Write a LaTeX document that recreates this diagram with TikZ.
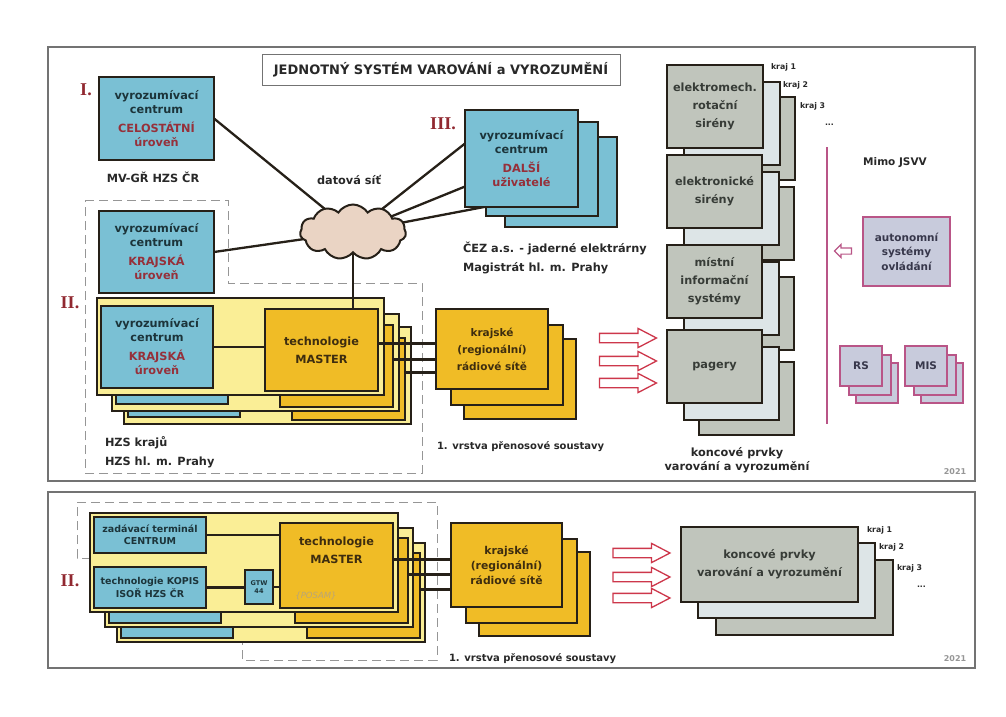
\documentclass[tikz,border=0pt]{standalone}
\usepackage{fontspec}
\setmainfont{DejaVu Sans}
\newfontfamily\romanfont{Liberation Serif}
\usetikzlibrary{shapes.symbols,shapes.arrows}
\pgfdeclarelayer{back}
\pgfdeclarelayer{bg}
\pgfsetlayers{back,bg,main}
\definecolor{bluefill}{RGB}{122,192,212}
\definecolor{bluetext}{RGB}{28,52,58}
\definecolor{redtext}{RGB}{150,48,58}
\definecolor{dk}{RGB}{38,32,24}
\definecolor{ylight}{RGB}{250,238,150}
\definecolor{mastfill}{RGB}{240,188,38}
\definecolor{ytext}{RGB}{62,45,15}
\definecolor{greycard}{RGB}{192,197,188}
\definecolor{lightcard}{RGB}{221,229,231}
\definecolor{cardtext}{RGB}{55,60,55}
\definecolor{lav}{RGB}{200,203,220}
\definecolor{lavtext}{RGB}{55,55,75}
\definecolor{pinkc}{RGB}{185,85,135}
\definecolor{cloudc}{RGB}{234,212,196}
\definecolor{romanc}{RGB}{145,40,48}
\definecolor{arrowred}{RGB}{205,55,75}
\definecolor{panelc}{RGB}{115,115,115}
\definecolor{dashc}{RGB}{150,150,150}
\definecolor{labc}{RGB}{40,40,40}
\definecolor{yearc}{RGB}{150,150,150}
\definecolor{posamc}{RGB}{185,165,120}
\newcommand\fs[2]{\fontsize{#1}{#2}\selectfont}
\newcommand\rt[1]{\textcolor{redtext}{#1}}
\newcommand\rbox[7]{\node[#6,minimum width={(#4)-(#2)},minimum height={(#5)-(#3)}] (#1) at ({((#2)+(#4))/2},{((#3)+(#5))/2}) {#7};}
\newcommand\layerII[4]{%
\begin{scope}[shift={#2}]
\rbox{y#1}{97}{298}{384}{395}{ylayer}{}
\rbox{b#1}{101}{306}{213}{388}{blubox}{#3}
\rbox{m#1}{265}{309}{378}{391}{mastbox}{#4}
\end{scope}}
\newcommand\layerIIb[5]{%
\begin{scope}[shift={#2}]
\rbox{z#1y}{90}{513}{398}{612}{ylayer}{}
\rbox{z#1a}{94}{517}{206}{553}{smallblue}{#3}
\rbox{z#1b}{94}{567}{206}{608}{smallblue}{#4}
\rbox{z#1m}{280}{523}{393}{608}{mastbox}{#5}
\end{scope}}
\newcommand\sirgrp[6]{%
\rbox{#1c}{(#2)+32}{(#3)+32}{(#4)+32}{(#5)+32}{card}{}
\rbox{#1b}{(#2)+17}{(#3)+17}{(#4)+17}{(#5)+17}{lcard}{}
\rbox{#1a}{#2}{#3}{#4}{#5}{card}{#6}}
\newcommand\lavstack[6]{%
\rbox{#1c}{(#2)+16}{(#3)+17}{(#4)+16}{(#5)+17}{lavsmall}{}
\rbox{#1b}{(#2)+9}{(#3)+9}{(#4)+9}{(#5)+9}{lavsmall}{}
\rbox{#1a}{#2}{#3}{#4}{#5}{lavsmall}{#6}}
\begin{document}
\begin{tikzpicture}[x=1pt,y=-1pt,
  every node/.style={inner sep=0pt,outer sep=0pt},
  font=\bfseries\fs{11.3}{14},
  blubox/.style={draw=dk,line width=2.8pt,fill=bluefill,align=center,text=bluetext,font=\bfseries\fs{11.3}{14}},
  smallblue/.style={blubox,font=\bfseries\fs{9.5}{12.5}},
  gtwbox/.style={draw=dk,line width=1.4pt,fill=bluefill,align=center,text=bluetext,font=\bfseries\fs{6.5}{8}},
  mastbox/.style={draw=dk,line width=2.8pt,fill=mastfill,align=center,text=ytext,font=\bfseries\fs{11.3}{18}},
  radbox/.style={mastbox,font=\bfseries\fs{10.5}{17}},
  radboxb/.style={mastbox,font=\bfseries\fs{10.8}{15}},
  ylayer/.style={draw=dk,line width=1.4pt,fill=ylight},
  card/.style={draw=dk,line width=2.8pt,fill=greycard,align=center,text=cardtext,font=\bfseries\fs{11.3}{18}},
  lcard/.style={card,fill=lightcard},
  lavbox/.style={draw=pinkc,line width=2.6pt,fill=lav,align=center,text=lavtext,font=\bfseries\fs{10.5}{14.5}},
  lavsmall/.style={draw=pinkc,line width=1.2pt,fill=lav,text=lavtext,font=\bfseries\fs{10.5}{12}},
  lab/.style={text=labc,font=\bfseries\fs{11.3}{14}},
  roman/.style={text=romanc,font=\romanfont\bfseries\fs{18}{18}},
  kraj/.style={text=labc,anchor=west,font=\bfseries\fs{7.8}{9}},
  yearlab/.style={text=yearc,font=\bfseries\fs{8}{9}},
  titlebox/.style={draw=panelc,line width=1pt,fill=white,text=labc,font=\bfseries\fs{13}{15}},
  panel/.style={draw=panelc,line width=1.2pt},
  dashbox/.style={draw=dashc,dash pattern=on 9pt off 5pt,line width=0.9pt},
  conn/.style={draw=dk,line width=2.3pt},
  redarr/.style={single arrow,draw=arrowred,fill=white,line width=1.3pt,minimum height=57pt,inner sep=4pt,single arrow head extend=5pt,single arrow tip angle=55},
  pinkarr/.style={single arrow,shape border rotate=180,draw=pinkc,fill=white,line width=1.2pt,minimum height=17pt,inner sep=2.5pt,single arrow head extend=3.5pt,single arrow tip angle=90},
  posam/.style={text=posamc,font=\normalfont\itshape\fs{8.5}{9}}]
\useasboundingbox (0,0) rectangle (1006,717);
\begin{pgfonlayer}{back}
\fill[white] (0,0) rectangle (1006,717);
\draw[panel] (48,47) rectangle (975,481);
\draw[panel] (48,492) rectangle (975,668);
\draw[dashbox] (85,200) -- (228,200) -- (228,283) -- (422,283) -- (422,473) -- (85,473) -- cycle;
\draw[dashbox] (77,502) -- (437,502) -- (437,660) -- (242,660) -- (242,558) -- (77,558) -- cycle;
\end{pgfonlayer}

% ---------- top panel ----------
\rbox{title}{262}{55}{620}{85}{titlebox}{JEDNOTNÝ SYSTÉM VAROVÁNÍ a VYROZUMĚNÍ}

\node[roman] (rI) at (86,90) {I.};
\rbox{c1}{99}{77}{214}{160}{blubox}{vyrozumívací\\centrum\\[5pt]\rt{CELOSTÁTNÍ}\\\rt{úroveň}}
\node[lab] (mvgr) at (153,177) {MV-GŘ HZS ČR};

\rbox{k0}{99}{211}{214}{293}{blubox}{vyrozumívací\\centrum\\[5pt]\rt{KRAJSKÁ}\\\rt{úroveň}}

\node[cloud,cloud puffs=11,cloud puff arc=115,aspect=1.85,draw=dk,line width=2pt,fill=cloudc,minimum width=106pt,minimum height=55pt] (net) at (353,232) {};
\node[lab] (dsit) at (349,180) {datová síť};

\node[roman] (rIII) at (443,124) {III.};
\rbox{d3}{505}{137}{617}{227}{blubox}{}
\rbox{d2}{486}{122}{598}{216}{blubox}{}
\rbox{d1}{465}{110}{578}{207}{blubox}{vyrozumívací\\centrum\\[5pt]\rt{DALŠÍ}\\\rt{uživatelé}}
\node[lab,anchor=west] (cez) at (463,248) {ČEZ a.s. - jaderné elektrárny};
\node[lab,anchor=west] (mag) at (463,268) {Magistrát hl. m. Prahy};

\begin{pgfonlayer}{bg}
\draw[conn] (c1.east) -- (net);
\draw[conn] (k0.east) -- (net);
\draw[conn] (net) -- ([yshift=15pt]d1.west);
\draw[conn] (net) -- ([yshift=-9pt]d2.west);
\draw[conn] (net) -- ([yshift=-21pt]d3.west);
\end{pgfonlayer}

\node[roman] (rII) at (70,303) {II.};
\layerII{3}{(27,29)}{}{}
\layerII{2}{(15,16)}{}{}
\layerII{1}{(0,0)}{vyrozumívací\\centrum\\[5pt]\rt{KRAJSKÁ}\\\rt{úroveň}}{technologie\\MASTER}
\draw[conn] (b1.east) -- (b1.east -| m1.west);
\draw[conn] (net.south) -- (net.south |- m1.north);
\node[lab,anchor=west] (hzs1) at (105,443) {HZS krajů};
\node[lab,anchor=west] (hzs2) at (105,462) {HZS hl. m. Prahy};

\rbox{r3}{464}{339}{576}{419}{radbox}{}
\rbox{r2}{451}{325}{563}{405}{radbox}{}
\rbox{r1}{436}{309}{548}{389}{radbox}{krajské\\(regionální)\\rádiové sítě}
\coordinate (mo1) at ([yshift=6.5pt]m1.east);
\coordinate (mo2) at ([yshift=6.5pt]m2.east);
\coordinate (mo3) at ([yshift=6.5pt]m3.east);
\draw[conn] (mo1) -- (mo1 -| r1.west);
\draw[conn] (mo2) -- (mo2 -| r1.west);
\draw[conn] (mo3) -- (mo3 -| r1.west);
\node[lab,anchor=west,font=\bfseries\fs{10}{12}] (vrst1) at (437,447) {1. vrstva přenosové soustavy};

\node[redarr] (a1) at (623.5,338) {};
\node[redarr] (a2) at (623.5,361) {};
\node[redarr] (a3) at (623.5,383) {};

\sirgrp{s1}{667}{65}{763}{148}{elektromech.\\rotační\\sirény}
\sirgrp{s2}{667}{155}{762}{228}{elektronické\\sirény}
\sirgrp{s3}{667}{245}{762}{318}{místní\\informační\\systémy}
\sirgrp{s4}{667}{330}{762}{403}{pagery}
\node[kraj] (kr1) at (771,67) {kraj 1};
\node[kraj] (kr2) at (783,85) {kraj 2};
\node[kraj] (kr3) at (800,106) {kraj 3};
\node[kraj] (kr4) at (825,125) {...};
\node[lab,align=center] (konc) at (737,460) {koncové prvky\\varování a vyrozumění};

\draw[pinkc,line width=1.5pt] (827,147) -- (827,424);
\node[lab,font=\bfseries\fs{10.5}{12}] (mimo) at (895,163) {Mimo JSVV};
\rbox{aut}{863}{217}{950}{286}{lavbox}{autonomní\\systémy\\ovládání}
\node[pinkarr] (la) at (844.5,251) {};
\lavstack{rs}{840}{346}{882}{386}{RS}
\lavstack{mis}{905}{346}{947}{386}{MIS}
\node[yearlab] (yr1) at (955,472) {2021};

% ---------- bottom panel ----------
\node[roman] (rIIb) at (70,581) {II.};
\layerIIb{3}{(27,30)}{}{}{}
\layerIIb{2}{(15,15)}{}{}{}
\layerIIb{1}{(0,0)}{zadávací terminál\\CENTRUM}{technologie KOPIS\\ISOŘ HZS ČR}{technologie\\MASTER\\[12pt]}
\node[posam] (posam) at (316,596) {\{POSAM\}};
\rbox{gtw}{245}{570}{273}{604}{gtwbox}{GTW\\44}
\draw[conn] (z1a.east) -- (z1a.east -| z1m.west);
\draw[conn] (z1b.east) -- (z1b.east -| gtw.west);
\draw[conn] (gtw.east) -- (gtw.east -| z1m.west);

\rbox{rb3}{479}{552}{590}{636}{radboxb}{}
\rbox{rb2}{466}{539}{577}{623}{radboxb}{}
\rbox{rb1}{451}{523}{562}{607}{radboxb}{krajské\\(regionální)\\rádiové sítě}
\coordinate (no1) at ([yshift=6pt]z1m.east);
\coordinate (no2) at ([yshift=6pt]z2m.east);
\coordinate (no3) at ([yshift=6pt]z3m.east);
\draw[conn] (no1) -- (no1 -| rb1.west);
\draw[conn] (no2) -- (no2 -| rb1.west);
\draw[conn] (no3) -- (no3 -| rb1.west);
\node[lab,anchor=west,font=\bfseries\fs{10}{12}] (vrst2) at (449,659) {1. vrstva přenosové soustavy};

\node[redarr] (b1a) at (637,553) {};
\node[redarr] (b2a) at (637,577) {};
\node[redarr] (b3a) at (637,598) {};

\rbox{kb3}{716}{560}{893}{635}{card}{}
\rbox{kb2}{698}{543}{875}{618}{lcard}{}
\rbox{kb1}{681}{527}{858}{602}{card}{koncové prvky\\varování a vyrozumění}
\node[kraj] (kb1l) at (867,530) {kraj 1};
\node[kraj] (kb2l) at (879,547) {kraj 2};
\node[kraj] (kb3l) at (897,568) {kraj 3};
\node[kraj] (kb4l) at (917,587) {...};
\node[yearlab] (yr2) at (955,659) {2021};
\end{tikzpicture}
\end{document}
